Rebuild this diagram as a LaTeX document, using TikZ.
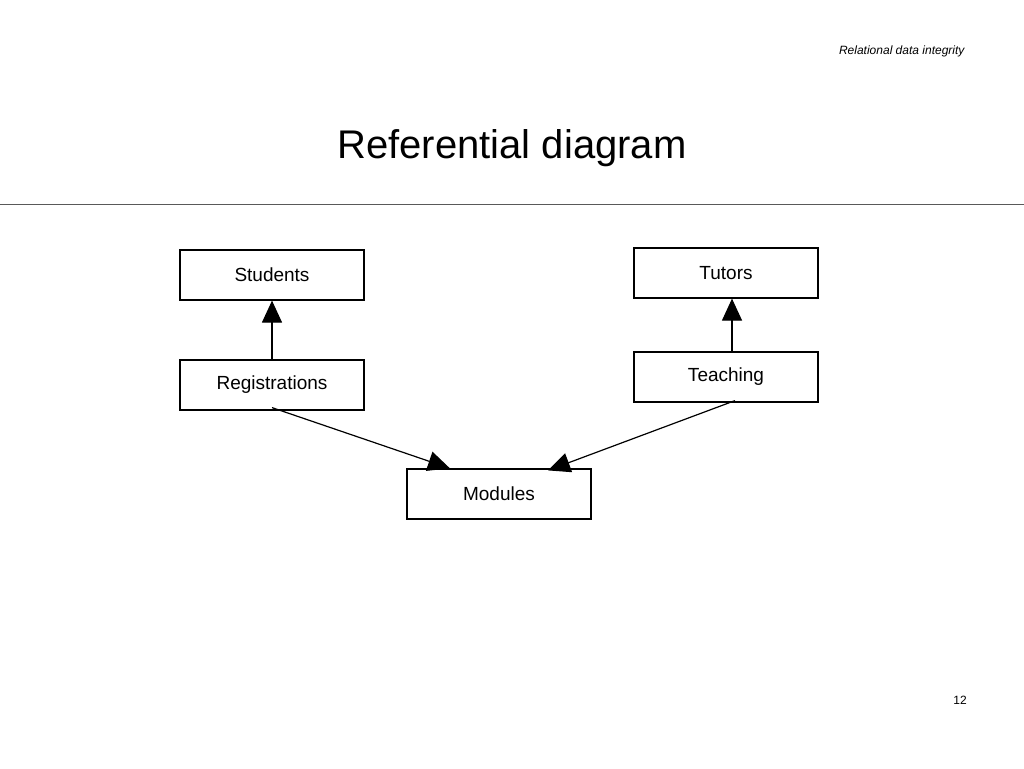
\documentclass[tikz,border=0pt]{standalone}
\usepackage{fontspec}
\setmainfont{Liberation Sans}
\usetikzlibrary{arrows.meta}
\begin{document}
\begin{tikzpicture}[x=1pt,y=-1pt,
 box/.style={draw,line width=1.2pt,minimum width=184pt,minimum height=50pt,inner sep=0pt,font=\fontsize{19}{22}\selectfont},
 arr/.style={line width=1.2pt,-{Triangle[length=22pt,width=20pt]}}]
\useasboundingbox (0,0) rectangle (1024,768);
\node[anchor=east,font=\itshape\fontsize{12}{14}\selectfont] (hdr) at (968,51) {Relational data integrity};
\node[font=\fontsize{40}{46}\selectfont] (title) at (512,148) {Referential diagram};
\coordinate (l1) at (0,204); \coordinate (l2) at (1024,204);
\draw[gray!70!black,line width=0.8pt] (l1) -- (l2);
\node[box] (stu) at (272,275) {Students};
\node[box] (tut) at (726,273) {Tutors};
\node[box] (reg) at (272,385) {Registrations};
\node[box] (tea) at (726,377) {Teaching};
\node[box] (mod) at (499,494) {Modules};
\draw[arr] (reg.north) -- (stu.south);
\draw[arr] ([xshift=6pt]tea.north) -- ([xshift=6pt]tut.south);
\draw[arr] ([yshift=3pt]reg.south) -- ([xshift=-49pt]mod.north);
\draw[arr] ([xshift=9pt,yshift=2pt]tea.south) -- ([xshift=49pt,yshift=-2pt]mod.north);
\node[font=\fontsize{12}{14}\selectfont] (pg) at (960,700) {12};
\end{tikzpicture}
\end{document}
